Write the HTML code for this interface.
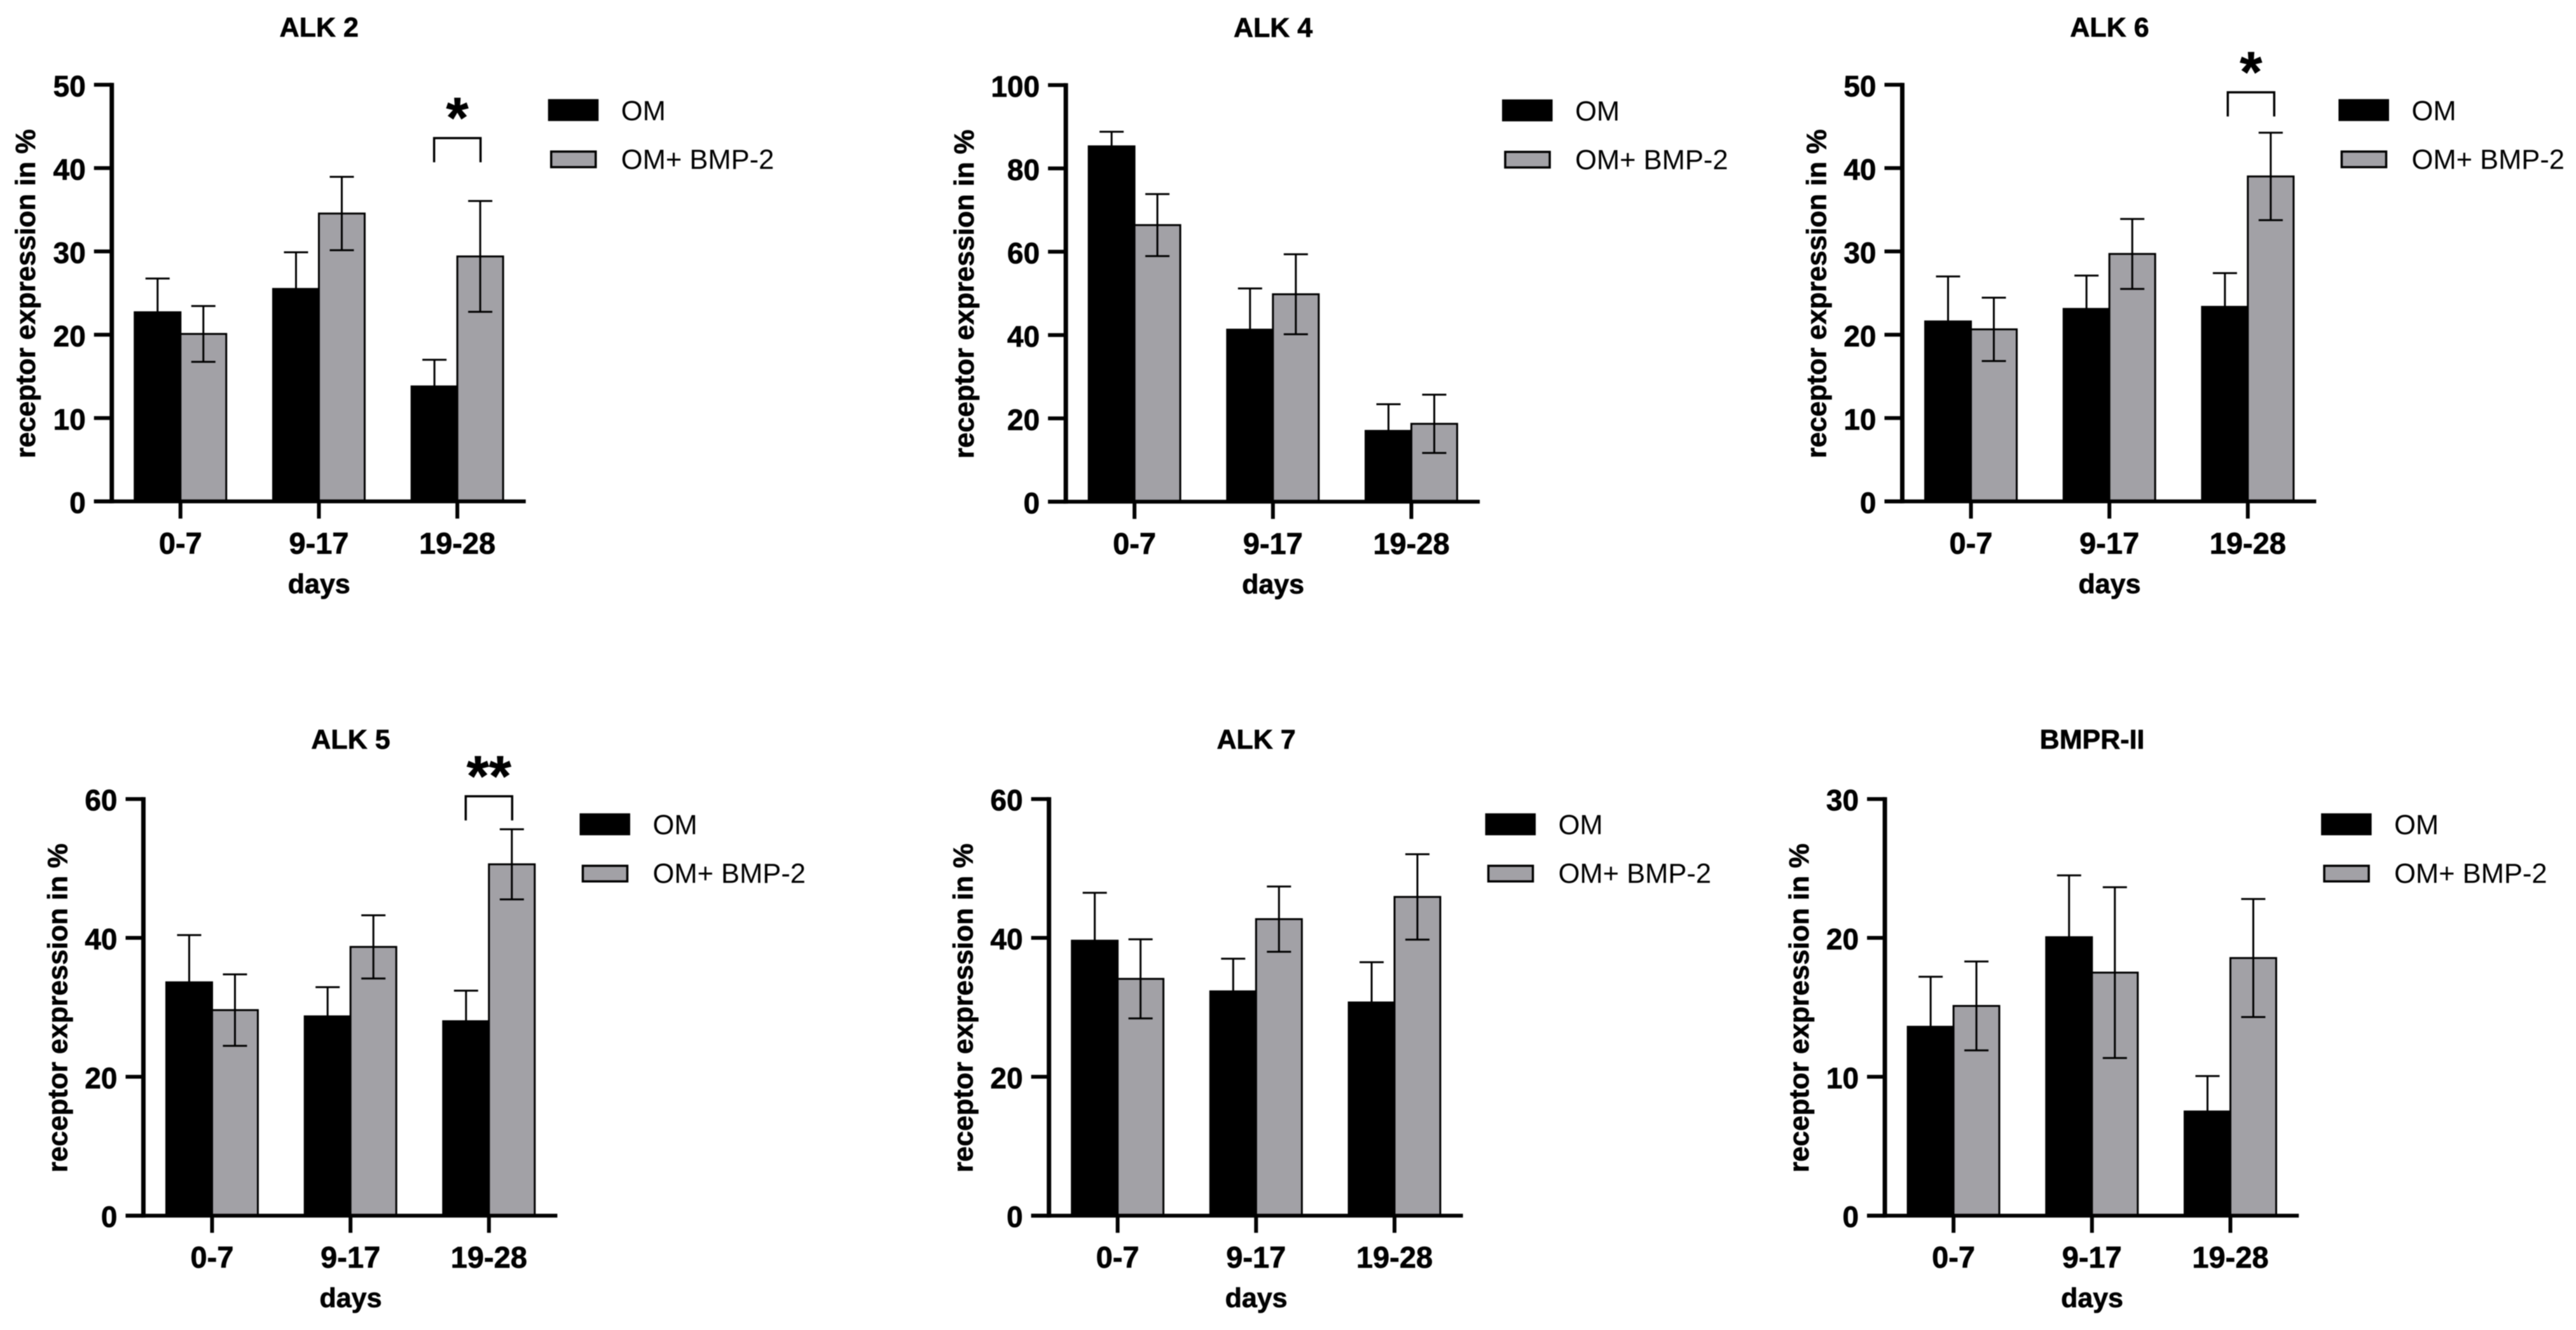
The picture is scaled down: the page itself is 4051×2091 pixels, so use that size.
<!DOCTYPE html>
<html lang="en">
<head>
<meta charset="utf-8">
<title>Receptor expression panels</title>
<style>
  html, body { margin: 0; padding: 0; background: #fff; }
  #figure { display: block; width: 4051px; height: 2091px; background: #fff; filter: blur(0.7px); }
  text { font-family: "Liberation Sans", Arial, sans-serif; fill: #000; }
  .bold { font-weight: 700; stroke: #000; stroke-width: 0.7px; }
</style>
</head>
<body>
<svg id="figure" xmlns="http://www.w3.org/2000/svg" width="4051" height="2091" viewBox="0 0 4051 2091"></svg>
<script>
// Shared categories and labels
const categories = ["0-7", "9-17", "19-28"];
const seriesNames = ["OM", "OM+ BMP-2"];
const xAxisTitle = "days";
const yAxisTitle = "receptor expression in %";

// ALK 2
const alk2Ticks = [0, 10, 20, 30, 40, 50];
const alk2Om = [22.7, 25.5, 13.8];
const alk2OmErr = [4.05, 4.4, 3.2];
const alk2Bmp = [20.1, 34.55, 29.4];
const alk2BmpErr = [3.35, 4.4, 6.65];

// ALK 4
const alk4Ticks = [0, 20, 40, 60, 80, 100];
const alk4Om = [85.3, 41.3, 17];
const alk4OmErr = [3.5, 9.9, 6.4];
const alk4Bmp = [66.4, 49.8, 18.7];
const alk4BmpErr = [7.45, 9.6, 7];

// ALK 6
const alk6Ticks = [0, 10, 20, 30, 40, 50];
const alk6Om = [21.6, 23.1, 23.35];
const alk6OmErr = [5.4, 4, 4.05];
const alk6Bmp = [20.65, 29.7, 39];
const alk6BmpErr = [3.8, 4.2, 5.25];

// ALK 5
const alk5Ticks = [0, 20, 40, 60];
const alk5Om = [33.6, 28.7, 28];
const alk5OmErr = [6.8, 4.2, 4.4];
const alk5Bmp = [29.6, 38.7, 50.6];
const alk5BmpErr = [5.15, 4.55, 5.05];

// ALK 7
const alk7Ticks = [0, 20, 40, 60];
const alk7Om = [39.6, 32.3, 30.7];
const alk7OmErr = [6.9, 4.7, 5.8];
const alk7Bmp = [34.1, 42.7, 45.9];
const alk7BmpErr = [5.7, 4.7, 6.15];

// BMPR-II
const bmpr2Ticks = [0, 10, 20, 30];
const bmpr2Om = [13.6, 20.05, 7.5];
const bmpr2OmErr = [3.6, 4.45, 2.55];
const bmpr2Bmp = [15.1, 17.5, 18.55];
const bmpr2BmpErr = [3.2, 6.15, 4.25];

// Rendering
const svg = document.getElementById('figure');
const NS = 'http://www.w3.org/2000/svg';
const GRAY = '#a2a1a6';

function make(tag, attrs, parent, content) {
  const el = document.createElementNS(NS, tag);
  for (const k in attrs) el.setAttribute(k, attrs[k]);
  if (content !== undefined) el.textContent = content;
  parent.appendChild(el);
  return el;
}

function drawPanel(p) {
  const axisX = p.axisX, top = p.top, base = top + 655;
  const slug = p.slug;
  const yMax = p.ticks[p.ticks.length - 1];
  const yScale = v => base - (v / yMax) * (base - top);
  const groupX = i => axisX + 108 + i * 217.7;
  const BAR_W = 72;

  const g = make('g', {}, svg);
  
  

  const title = make('text', { x: axisX + 326, y: top - p.titleGap, 'text-anchor': 'middle', 'font-size': 43, class: 'bold' }, g, p.title);
  
  

  // bars and error bars
  categories.forEach((cat, i) => {
    const cx = groupX(i);
    const series = [
      { vals: p.om, errs: p.omErr, x: cx - BAR_W, fill: '#000', name: 'om' },
      { vals: p.bmp, errs: p.bmpErr, x: cx, fill: GRAY, name: 'bmp' }
    ];
    series.forEach(s => {
      const yTop = yScale(s.vals[i]);
      const bar = make('rect', { x: s.x, y: yTop, width: BAR_W, height: base - yTop, fill: s.fill, stroke: '#000', 'stroke-width': 3 }, g);
      
      

      const mid = s.x + BAR_W / 2;
      const up = yScale(s.vals[i] + s.errs[i]);
      const low = yScale(s.vals[i] - s.errs[i]);
      const err = make('path', {
        d: 'M' + mid + ' ' + up + 'V' + low + 'M' + (mid - 19) + ' ' + up + 'H' + (mid + 19) + 'M' + (mid - 19) + ' ' + low + 'H' + (mid + 19),
        fill: 'none', stroke: '#000', 'stroke-width': 3
      }, g);
      
      
    });

    const tick = make('line', { x1: cx, x2: cx, y1: base, y2: base + 27, stroke: '#000', 'stroke-width': 6 }, g);
    
    

    const label = make('text', { x: cx, y: base + 82, 'text-anchor': 'middle', 'font-size': 47, class: 'bold' }, g, cat);
    
    
  });

  // axes
  const yAxis = make('line', { x1: axisX, x2: axisX, y1: top - 3, y2: base + 3, stroke: '#000', 'stroke-width': 7 }, g);
  
  

  const xAxis = make('line', { x1: axisX - 28, x2: axisX + 651, y1: base, y2: base, stroke: '#000', 'stroke-width': 6 }, g);
  
  

  p.ticks.forEach(t => {
    const y = yScale(t);
    const tick = make('line', { x1: axisX - 28, x2: axisX, y1: y, y2: y, stroke: '#000', 'stroke-width': 6 }, g);
    
    

    const label = make('text', { x: axisX - 41, y: y + 18, 'text-anchor': 'end', 'font-size': 46, class: 'bold' }, g, String(t));
    
    
  });

  const xTitle = make('text', { x: axisX + 326, y: base + 144, 'text-anchor': 'middle', 'font-size': 43, class: 'bold' }, g, xAxisTitle);
  
  

  const yTitleX = axisX - p.yTitleGap, yTitleY = (top + base) / 2 + 1;
  const yTitle = make('text', { x: yTitleX, y: yTitleY, 'text-anchor': 'middle', 'font-size': 43.5, class: 'bold', transform: 'rotate(-90 ' + yTitleX + ' ' + yTitleY + ')' }, g, yAxisTitle);
  
  

  // legend
  const swatchOm = make('rect', { x: axisX + 686, y: top + 22.5, width: 79.5, height: 34.5, fill: '#000' }, g);
  
  

  const labelOm = make('text', { x: axisX + 801, y: top + 55.5, 'font-size': 43.5 }, g, seriesNames[0]);
  
  

  const swatchBmp = make('rect', { x: axisX + 691, y: top + 105, width: 70, height: 24.5, fill: GRAY, stroke: '#000', 'stroke-width': 3.5 }, g);
  
  

  const labelBmp = make('text', { x: axisX + 801, y: top + 132, 'font-size': 43.5 }, g, seriesNames[1]);
  
  

  // significance bracket
  if (p.stars) {
    const cx = groupX(2) + (p.bracketShift || 0);
    const by = yScale(p.bracketValue);
    const bracket = make('path', {
      d: 'M' + (cx - 36.5) + ' ' + (by + 38) + 'V' + by + 'H' + (cx + 36.5) + 'V' + (by + 38),
      fill: 'none', stroke: '#000', 'stroke-width': 3.5
    }, g);
    
    

    const star = make('text', { x: cx, y: by - 1, 'text-anchor': 'middle', 'font-size': 90, class: 'bold' }, g, p.stars);
    
    
  }
}

drawPanel({ slug: 'alk-2', title: 'ALK 2', axisX: 175.8, top: 133.3, titleGap: 76, yTitleGap: 121, ticks: alk2Ticks, om: alk2Om, omErr: alk2OmErr, bmp: alk2Bmp, bmpErr: alk2BmpErr, stars: '*', bracketValue: 43.6 });
drawPanel({ slug: 'alk-4', title: 'ALK 4', axisX: 1676.1, top: 133.8, titleGap: 76, yTitleGap: 145, ticks: alk4Ticks, om: alk4Om, omErr: alk4OmErr, bmp: alk4Bmp, bmpErr: alk4BmpErr });
drawPanel({ slug: 'alk-6', title: 'ALK 6', axisX: 2991.5, top: 133.3, titleGap: 76, yTitleGap: 120, ticks: alk6Ticks, om: alk6Om, omErr: alk6OmErr, bmp: alk6Bmp, bmpErr: alk6BmpErr, stars: '*', bracketValue: 49.1, bracketShift: 5 });
drawPanel({ slug: 'alk-5', title: 'ALK 5', axisX: 225.5, top: 1256.2, titleGap: 79, yTitleGap: 120, ticks: alk5Ticks, om: alk5Om, omErr: alk5OmErr, bmp: alk5Bmp, bmpErr: alk5BmpErr, stars: '**', bracketValue: 60.4 });
drawPanel({ slug: 'alk-7', title: 'ALK 7', axisX: 1649.6, top: 1256.2, titleGap: 79, yTitleGap: 120, ticks: alk7Ticks, om: alk7Om, omErr: alk7OmErr, bmp: alk7Bmp, bmpErr: alk7BmpErr });
drawPanel({ slug: 'bmpr-ii', title: 'BMPR-II', axisX: 2964.1, top: 1256.2, titleGap: 79, yTitleGap: 120, ticks: bmpr2Ticks, om: bmpr2Om, omErr: bmpr2OmErr, bmp: bmpr2Bmp, bmpErr: bmpr2BmpErr });
</script>
</body>
</html>
